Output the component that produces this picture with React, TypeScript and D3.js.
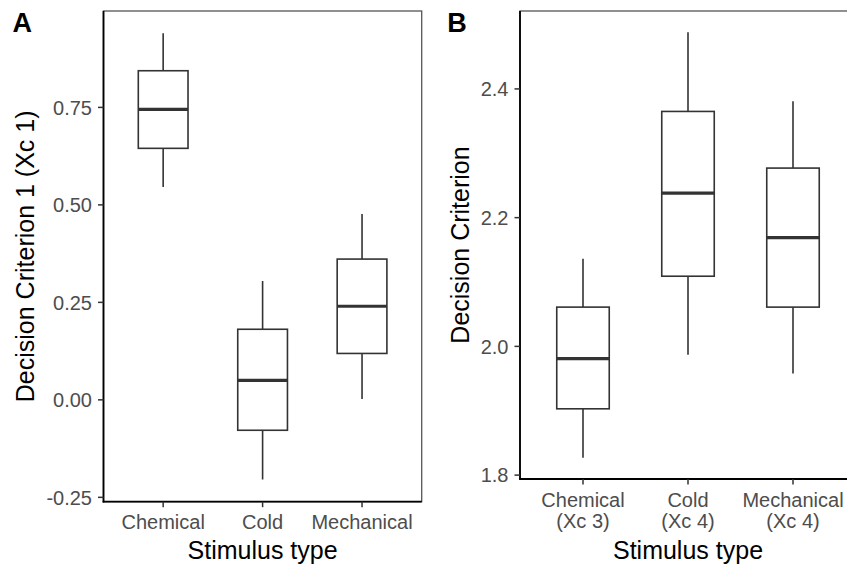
import React from "react";
import * as d3 from "d3";

const categoriesA = ["Chemical", "Cold", "Mechanical"];
const lowerA = [0.546, -0.204, 0.002];
const q1A = [0.645, -0.078, 0.119];
const medianA = [0.745, 0.05, 0.24];
const q3A = [0.844, 0.181, 0.361];
const upperA = [0.94, 0.305, 0.4765];
const ticksA = [-0.25, 0, 0.25, 0.5, 0.75];

const categoriesB = [["Chemical", "(Xc 3)"], ["Cold", "(Xc 4)"], ["Mechanical", "(Xc 4)"]];
const lowerB = [1.827, 1.987, 1.958];
const q1B = [1.903, 2.109, 2.061];
const medianB = [1.981, 2.238, 2.169];
const q3B = [2.061, 2.365, 2.277];
const upperB = [2.136, 2.488, 2.381];
const ticksB = [1.8, 2.0, 2.2, 2.4];

const FONT = "'Liberation Sans', Arial, Helvetica, sans-serif";
const TICK_COLOR = "#4D4D4D";
const BOX_COLOR = "#333333";

type PanelProps = {
  letter: string;
  letterX: number;
  left: number;
  right: number;
  top: number;
  bottom: number;
  cats: string[][];
  lower: number[];
  q1: number[];
  median: number[];
  q3: number[];
  upper: number[];
  ticks: number[];
  tickFmt: (v: number) => string;
  yTitle: string;
  yTitleX: number;
};

function Panel(p: PanelProps) {
  const keys = p.cats.map((c) => c.join(" "));
  const x = d3.scalePoint<string>().domain(keys).range([p.left, p.right]).padding(0.6);
  const all = [...p.lower, ...p.upper];
  const lo = d3.min(all) as number;
  const hi = d3.max(all) as number;
  const pad = (hi - lo) * 0.05;
  const y = d3.scaleLinear().domain([lo - pad, hi + pad]).range([p.bottom, p.top]);
  const bw = x.step() * 0.5;
  const clipId = "clip-" + p.letter;
  return (
    <g>
      <defs>
        <clipPath id={clipId}>
          <rect x={p.left} y={p.top - 2} width={p.right - p.left + 2} height={p.bottom - p.top + 4} />
        </clipPath>
      </defs>
      <rect x={p.left} y={p.top} width={p.right - p.left} height={p.bottom - p.top} fill="none" stroke="#555" strokeWidth={1.3} />
      <g clipPath={`url(#${clipId})`}>
        {keys.map((k, i) => {
          const cx = x(k) as number;
          return (
            <g key={k} stroke={BOX_COLOR} fill="#fff">
              <line x1={cx} x2={cx} y1={y(p.upper[i])} y2={y(p.q3[i])} strokeWidth={1.6} />
              <line x1={cx} x2={cx} y1={y(p.q1[i])} y2={y(p.lower[i])} strokeWidth={1.6} />
              <rect x={cx - bw / 2} y={y(p.q3[i])} width={bw} height={y(p.q1[i]) - y(p.q3[i])} strokeWidth={1.6} />
              <line x1={cx - bw / 2} x2={cx + bw / 2} y1={y(p.median[i])} y2={y(p.median[i])} strokeWidth={3.2} />
            </g>
          );
        })}
      </g>
      <line x1={p.left} x2={p.left} y1={p.top} y2={p.bottom + 0.8} stroke="#000" strokeWidth={1.8} />
      <line x1={p.left - 0.8} x2={p.right} y1={p.bottom} y2={p.bottom} stroke="#000" strokeWidth={1.8} />
      {p.ticks.map((t) => (
        <g key={t}>
          <line x1={p.left - 5.5} x2={p.left} y1={y(t)} y2={y(t)} stroke="#333" strokeWidth={1.5} />
          <text x={p.left - 11.5} y={y(t)} dy="0.36em" textAnchor="end" fontSize={20} fill={TICK_COLOR} fontFamily={FONT}>
            {p.tickFmt(t)}
          </text>
        </g>
      ))}
      {keys.map((k, i) => {
        const cx = x(k) as number;
        return (
          <g key={k}>
            <line x1={cx} x2={cx} y1={p.bottom} y2={p.bottom + 5.5} stroke="#333" strokeWidth={1.5} />
            {p.cats[i].map((line, j) => (
              <text key={j} x={cx} y={p.bottom + 27.5 + j * 21.5} textAnchor="middle" fontSize={20} fill={TICK_COLOR} fontFamily={FONT}>
                {line}
              </text>
            ))}
          </g>
        );
      })}
      <text x={(p.left + p.right) / 2} y={558.5} textAnchor="middle" fontSize={25} fill="#000" fontFamily={FONT}>
        Stimulus type
      </text>
      <text transform={`translate(${p.yTitleX},${(p.top + p.bottom) / 2}) rotate(-90)`} textAnchor="middle" fontSize={25} fill="#000" fontFamily={FONT}>
        {p.yTitle}
      </text>
      <text x={p.letterX} y={31.7} fontSize={27} fontWeight="bold" fill="#000" fontFamily={FONT}>
        {p.letter}
      </text>
    </g>
  );
}

const fmt2 = (v: number) => d3.format(".2f")(v).replace("\u2212", "-");
const fmt1 = (v: number) => d3.format(".1f")(v).replace("\u2212", "-");

export default function App() {
  return (
    <svg width={847} height={566} style={{ position: "absolute", left: 0, top: 0, background: "#fff" }}>
      <rect width={847} height={566} fill="#fff" />
      <Panel
        letter="A"
        letterX={12.5}
        left={103.5}
        right={421.7}
        top={11}
        bottom={501.7}
        cats={categoriesA.map((c) => [c])}
        lower={lowerA}
        q1={q1A}
        median={medianA}
        q3={q3A}
        upper={upperA}
        ticks={ticksA}
        tickFmt={fmt2}
        yTitle="Decision Criterion 1 (Xc 1)"
        yTitleX={33.5}
      />
      <Panel
        letter="B"
        letterX={447.3}
        left={520}
        right={856}
        top={11}
        bottom={479}
        cats={categoriesB}
        lower={lowerB}
        q1={q1B}
        median={medianB}
        q3={q3B}
        upper={upperB}
        ticks={ticksB}
        tickFmt={fmt1}
        yTitle="Decision Criterion"
        yTitleX={469}
      />
    </svg>
  );
}
